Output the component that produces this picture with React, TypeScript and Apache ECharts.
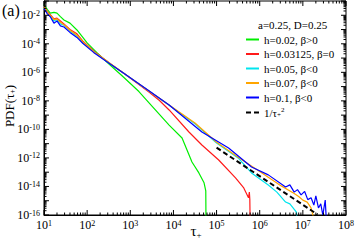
import React, { useEffect, useRef } from "react";
import * as echarts from "echarts";

const FONT = "Liberation Serif";

const seriesNames = [
  "h=0.02, β>0",
  "h=0.03125, β=0",
  "h=0.05, β<0",
  "h=0.07, β<0",
  "h=0.1, β<0",
  "1/τ+^2",
];
const seriesColors = ["#00ee00", "#ff1a1a", "#00e5ee", "#ffa500", "#0000ff", "#000000"];

const greenData: [number, number][] = [
  [10, 5.6e-2], [12, 2.5e-2], [14, 1.4e-2], [17, 1.6e-2], [20, 1.4e-2], [24, 8e-3],
  [29, 4.7e-3], [40, 2.8e-3], [58, 9.3e-4], [100, 1.15e-4], [166, 2.5e-5], [316, 4e-6],
  [692, 4.7e-7], [1585, 4.5e-8], [2754, 7e-9], [7943, 2e-10], [15850, 2.5e-11],
  [26900, 5.2e-13], [38900, 8.9e-14], [51300, 1.8e-14], [56200, 5e-15], [57000, 1e-17],
];
const redData: [number, number][] = [
  [10, 4e-2], [12, 1.8e-2], [14, 1.1e-2], [17, 5.6e-3], [20, 6.3e-3], [24, 4e-3],
  [29, 2.5e-3], [40, 1e-3], [58, 5e-4], [79, 1.6e-4], [141, 3.2e-5], [316, 5e-6],
  [692, 8.9e-7], [1585, 1.4e-7], [2754, 4e-8], [4677, 1.1e-8], [7943, 2.3e-9],
  [22900, 6.6e-11], [45700, 8.1e-12], [112000, 7.2e-13], [275000, 4e-14],
  [427000, 7.9e-15], [550000, 1.6e-15], [575000, 4e-15], [590000, 1.2e-15], [603000, 1e-17],
];
const cyanData: [number, number][] = [
  [10, 3.2e-2], [12, 1.5e-2], [14, 9e-3], [17, 4e-3], [20, 5e-3], [24, 2.5e-3],
  [29, 2e-3], [40, 8e-4], [58, 3.5e-4], [79, 1.3e-4], [141, 2.8e-5], [316, 4.7e-6],
  [692, 8.9e-7], [2754, 4.8e-8], [7943, 5e-9], [31600, 2.5e-10], [100000, 1.1e-11],
  [316000, 1e-12], [646000, 8.9e-14], [1.58e6, 1.26e-14], [2.5e6, 4e-15],
  [3.98e6, 8.1e-16], [5e6, 6e-16], [7.1e6, 1.6e-16], [7.5e6, 1e-17],
];
const orangeData: [number, number][] = [
  [10, 3.5e-2], [12, 1.6e-2], [14, 1e-2], [17, 5e-3], [20, 5.6e-3], [24, 3.2e-3],
  [29, 2.2e-3], [40, 8.9e-4], [58, 4e-4], [79, 1.4e-4], [141, 2.8e-5], [316, 5e-6],
  [692, 8.9e-7], [2754, 4.7e-8], [7943, 5.1e-9], [31600, 2.8e-10], [100000, 1.26e-11],
  [316000, 1.1e-12], [1e6, 1.1e-13], [3.16e6, 1.1e-14], [6.3e6, 3.2e-15], [8e6, 2e-15],
  [1e7, 1.1e-15], [1.26e7, 8e-16], [1.55e7, 3.2e-16], [1.78e7, 6e-17], [1.8e7, 1e-17],
];
const blueData: [number, number][] = [
  [10, 2.8e-2], [12, 1.26e-2], [14, 7.9e-3], [17, 2.8e-3], [20, 4e-3], [24, 1.8e-3],
  [29, 1.5e-3], [40, 6.3e-4], [58, 2.8e-4], [79, 1.1e-4], [141, 2.5e-5], [316, 4.5e-6],
  [692, 8.9e-7], [2754, 4.9e-8], [7943, 5.1e-9], [45700, 6.6e-11], [190000, 5e-12],
  [646000, 2.3e-13], [1.58e6, 6.5e-14], [3.98e6, 9.3e-15], [5e6, 1.3e-14], [6.3e6, 4e-15],
  [7.5e6, 6e-15], [9.1e6, 2.6e-15], [1.1e7, 4.5e-15], [1.3e7, 1.2e-15], [1.55e7, 1.6e-15],
  [1.8e7, 5e-16], [2.0e7, 2.2e-15], [2.3e7, 3.1e-16], [2.6e7, 6e-16], [2.9e7, 1e-16],
  [3.3e7, 1.1e-15], [3.6e7, 1e-17],
];
const powerLawData: [number, number][] = [
  [1e5, 5.25e-12], [2.2e7, 1.08e-16],
];

const xDecades = [1, 2, 3, 4, 5, 6, 7, 8];
const yDecades = [-16, -15, -14, -13, -12, -11, -10, -9, -8, -7, -6, -5, -4, -3, -2, -1];
const minorMultipliers = [2, 3, 4, 5, 6, 7, 8, 9];

const X_MIN = 10, X_MAX = 1e8, Y_MIN = 1e-16, Y_MAX = 1e-1;

function buildTicks() {
  const items: number[][] = [];
  xDecades.forEach((d, i) => {
    items.push([Math.pow(10, d), Y_MIN, 0, 1]);
    if (i < xDecades.length - 1)
      minorMultipliers.forEach((m) => items.push([m * Math.pow(10, d), Y_MIN, 0, 0]));
  });
  yDecades.forEach((d, i) => {
    items.push([X_MIN, Math.pow(10, d), 1, 1]);
    if (i < yDecades.length - 1)
      minorMultipliers.forEach((m) => items.push([X_MIN, m * Math.pow(10, d), 1, 0]));
  });
  return items;
}

const labelRich = {
  b: { fontFamily: FONT, fontSize: 12, color: "#000", lineHeight: 12 },
  s: { fontFamily: FONT, fontSize: 8, color: "#000", lineHeight: 4, verticalAlign: "top" },
};

export default function App() {
  const ref = useRef<HTMLDivElement>(null);
  useEffect(() => {
    const chart = echarts.init(ref.current!, undefined, { renderer: "svg" });
    const ticks = buildTicks();
    const lineSeries = [greenData, redData, cyanData, orangeData, blueData].map((d, i) => ({
      name: seriesNames[i],
      type: "line",
      data: d,
      symbol: "none",
      lineStyle: { color: seriesColors[i], width: 1.2 },
      itemStyle: { color: seriesColors[i] },
      clip: true,
      z: 2 + i,
    }));
    const option: any = {
      animation: false,
      grid: { left: 44, right: 9, top: 1, bottom: 32, show: true, borderColor: "#000", borderWidth: 1, backgroundColor: "transparent" },
      xAxis: {
        type: "log", logBase: 10, min: X_MIN, max: X_MAX, interval: 1,
        axisLine: { show: true, lineStyle: { color: "#000", width: 1 } },
        axisTick: { show: false }, splitLine: { show: false },
        axisLabel: {
          margin: 4,
          formatter: (v: number) => `{b|10}{s|${Math.round(Math.log10(v))}}`,
          rich: labelRich,
        },
      },
      yAxis: {
        type: "log", logBase: 10, min: Y_MIN, max: Y_MAX, interval: 1,
        axisLine: { show: true, lineStyle: { color: "#000", width: 1 } },
        axisTick: { show: false }, splitLine: { show: false },
        axisLabel: {
          margin: 4,
          formatter: (v: number) => {
            const e = Math.round(Math.log10(v));
            return e % 2 === 0 ? `{b|10}{s|${e}}` : "";
          },
          rich: labelRich,
        },
      },
      legend: {
        orient: "vertical", left: 245, top: 34, padding: 0,
        itemWidth: 13, itemHeight: 10, itemGap: 3.5,
        data: seriesNames,
        itemStyle: { color: "rgba(0,0,0,0)", borderColor: "rgba(0,0,0,0)", borderWidth: 0 },
        textStyle: {
          fontFamily: FONT, fontSize: 11, color: "#000", lineHeight: 10,
          rich: {
            m: { fontFamily: FONT, fontSize: 11, color: "#000", lineHeight: 12 },
            sub: { fontFamily: FONT, fontSize: 7, color: "#000", lineHeight: 4, verticalAlign: "bottom" },
            sup: { fontFamily: FONT, fontSize: 7, color: "#000", lineHeight: 2, verticalAlign: "top" },
          },
        },
        formatter: (name: string) => (name === "1/τ+^2" ? "{m|1/τ}{sub|+}{sup|2}" : name),
      },
      graphic: [
        { type: "text", left: 2, top: 2, style: { text: "(a)", fontFamily: FONT, fontSize: 16, fill: "#000" } },
        { type: "text", left: 258, top: 19, style: { text: "a=0.25, D=0.25", fontFamily: FONT, fontSize: 11, fill: "#000" } },
        {
          type: "text", x: 9, y: 106, rotation: Math.PI / 2,
          style: {
            text: "{m|PDF(τ}{s|+}{m|)}", align: "center", verticalAlign: "middle",
            rich: {
              m: { fontFamily: FONT, fontSize: 13, fill: "#000", lineHeight: 14 },
              s: { fontFamily: FONT, fontSize: 8, fill: "#000", lineHeight: 4, verticalAlign: "bottom" },
            },
          },
        },
        {
          type: "text", x: 196, y: 231,
          style: {
            text: "{m|τ}{s|+}", align: "center", verticalAlign: "middle",
            rich: {
              m: { fontFamily: FONT, fontSize: 15, fill: "#000", lineHeight: 16 },
              s: { fontFamily: FONT, fontSize: 9, fill: "#000", lineHeight: 4, verticalAlign: "bottom" },
            },
          },
        },
      ],
      series: [
        ...lineSeries,
        {
          name: seriesNames[5], type: "line", data: powerLawData, symbol: "none",
          lineStyle: { color: "#000", width: 2, type: [5, 3] }, itemStyle: { color: "#000" }, z: 8,
        },
        {
          type: "custom", name: "ticks", data: ticks, silent: true, z: 10, clip: false,
          renderItem: (params: any, api: any) => {
            const vx = api.value(0), vy = api.value(1), kind = api.value(2), major = api.value(3);
            const len = major ? 5 : 2.5;
            const st = { stroke: "#000", lineWidth: 1 };
            if (kind === 0) {
              const p = api.coord([vx, Y_MIN]);
              const q = api.coord([vx, Y_MAX]);
              return {
                type: "group",
                children: [
                  { type: "line", shape: { x1: p[0], y1: p[1], x2: p[0], y2: p[1] - len }, style: st },
                  { type: "line", shape: { x1: q[0], y1: q[1], x2: q[0], y2: q[1] + len }, style: st },
                ],
              };
            }
            const p = api.coord([X_MIN, vy]);
            const q = api.coord([X_MAX, vy]);
            return {
              type: "group",
              children: [
                { type: "line", shape: { x1: p[0], y1: p[1], x2: p[0] + len, y2: p[1] }, style: st },
                { type: "line", shape: { x1: q[0], y1: q[1], x2: q[0] - len, y2: q[1] }, style: st },
              ],
            };
          },
        },
      ],
    };
    chart.setOption(option);
    return () => chart.dispose();
  }, []);
  return <div ref={ref} style={{ position: "absolute", left: 0, top: 0, width: 357, height: 247 }} />;
}
